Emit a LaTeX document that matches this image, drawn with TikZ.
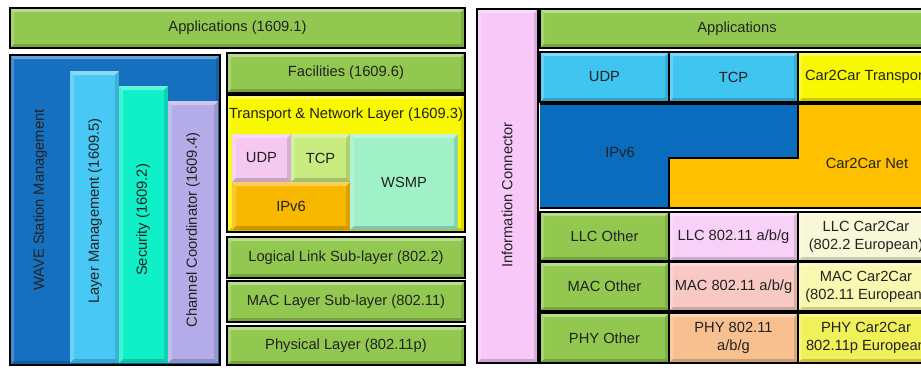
\documentclass[tikz,border=0pt]{standalone}
\usepackage{fontspec}
\setmainfont{Liberation Sans}
\definecolor{cgreen}{HTML}{92C850}
\definecolor{cwave}{HTML}{1670C0}
\definecolor{clayer}{HTML}{48C8F4}
\definecolor{csec}{HTML}{10F0C8}
\definecolor{cchan}{HTML}{B4ACE8}
\definecolor{cyel}{HTML}{F8F800}
\definecolor{cudpl}{HTML}{F4C8F0}
\definecolor{ctcpl}{HTML}{C8EC80}
\definecolor{corange}{HTML}{F8B800}
\definecolor{cwsmp}{HTML}{A0F0C8}
\definecolor{cic}{HTML}{F8C8F8}
\definecolor{ccyan}{HTML}{40C4F0}
\definecolor{cipv}{HTML}{0A6CBC}
\definecolor{cnet}{HTML}{FFC000}
\definecolor{cllc}{HTML}{F8D0F8}
\definecolor{cmac}{HTML}{F8C8C4}
\definecolor{cphy}{HTML}{F8C090}
\definecolor{cllcc}{HTML}{F8F8D8}
\definecolor{cmacc}{HTML}{F8F8B0}
\definecolor{cphyc}{HTML}{F0F058}
\definecolor{ctxt}{HTML}{222222}
\tikzset{
  bevel/.style={path picture={
    \fill[white,opacity=0.35] (path picture bounding box.north west) -- (path picture bounding box.north east)
       -- ([xshift=-4pt,yshift=-4pt]path picture bounding box.north east) -- ([xshift=4pt,yshift=-4pt]path picture bounding box.north west) -- cycle;
    \fill[white,opacity=0.2] (path picture bounding box.north west) -- (path picture bounding box.south west)
       -- ([xshift=4pt,yshift=4pt]path picture bounding box.south west) -- ([xshift=4pt,yshift=-4pt]path picture bounding box.north west) -- cycle;
    \fill[black,opacity=0.12] (path picture bounding box.north east) -- (path picture bounding box.south east)
       -- ([xshift=-4pt,yshift=4pt]path picture bounding box.south east) -- ([xshift=-4pt,yshift=-4pt]path picture bounding box.north east) -- cycle;
    \fill[black,opacity=0.18] (path picture bounding box.south west) -- (path picture bounding box.south east)
       -- ([xshift=-4pt,yshift=4pt]path picture bounding box.south east) -- ([xshift=4pt,yshift=4pt]path picture bounding box.south west) -- cycle;
  }},
  box/.style={rectangle, draw=black, line width=1.3pt, inner sep=0pt, outer sep=0pt, bevel,
    text=ctxt, font=\fontsize{14.7}{18}\selectfont, align=center},
  plain/.style={draw=none},
  lbl/.style={text=ctxt, font=\fontsize{14.7}{18}\selectfont, inner sep=0pt, align=center},
  lshape/.style={draw=black, line width=1.3pt},
}
\newcommand\lbox[8][]{\node[box,fill=#3,minimum width={#6-#4},minimum height={#7-#5},#1] (#2) at ({(#4+#6)/2},{(#5+#7)/2}) {#8};}
\begin{document}
\begin{tikzpicture}[x=1pt,y=-1pt]
\useasboundingbox (0,0) rectangle (921,367);
\fill[white] (0,0) rectangle (921,367);
% ---------- left stack ----------
\lbox{app1}{cgreen}{10}{8}{465}{48}{Applications (1609.1)}
\lbox{wave}{cwave}{10}{55}{220}{365}{}
\lbox[plain]{lay}{clayer}{70}{71}{119}{363}{}
\lbox[plain]{sec}{csec}{119}{86}{168}{363}{}
\lbox[plain]{chan}{cchan}{168}{101}{218}{363}{}
\draw[black,line width=1.3pt] (wave.north west) rectangle (wave.south east);
\node[lbl,rotate=90] (wavet) at (40,200) {WAVE Station Management};
\node[lbl,rotate=90] (layt) at (95,211) {Layer Management (1609.5)};
\node[lbl,rotate=90] (sect) at (143,220) {Security (1609.2)};
\node[lbl,rotate=90] (chant) at (193,230) {Channel Coordinator (1609.4)};
\lbox{fac}{cgreen}{227}{53}{465}{93}{Facilities (1609.6)}
\lbox{tnl}{cyel}{227}{95}{465}{232}{}
\node[lbl] (tnlt) at (346,115) {Transport \& Network Layer (1609.3)};
\lbox[plain]{udpa}{cudpl}{232}{134}{291}{182}{UDP}
\lbox[plain]{tcpa}{ctcpl}{291}{134}{350}{182}{TCP}
\lbox[plain]{ipva}{corange}{232}{182}{350}{230}{IPv6}
\lbox[plain]{wsmp}{cwsmp}{350}{134}{458}{230}{WSMP}
\draw[black,line width=1.3pt] (tnl.north west) rectangle (tnl.south east);
\lbox{llca}{cgreen}{227}{237}{465}{278}{Logical Link Sub-layer (802.2)}
\lbox{maca}{cgreen}{227}{281}{465}{322}{MAC Layer Sub-layer (802.11)}
\lbox{phya}{cgreen}{227}{326}{465}{365}{Physical Layer (802.11p)}
% ---------- right stack ----------
\lbox{ic}{cic}{477}{9}{538}{363}{}
\node[lbl,rotate=90] (ict) at (507,195) {Information Connector};
\lbox{app2}{cgreen}{540}{9}{934}{48}{Applications}
\lbox{udpb}{ccyan}{540}{52}{669}{102}{UDP}
\lbox{tcpb}{ccyan}{669}{52}{798}{102}{TCP}
\lbox{cct}{cyel}{798}{52}{934}{102}{Car2Car Transport}
\fill[cnet] (798,104) -- (934,104) -- (934,208) -- (669,208) -- (669,158) -- (798,158) -- cycle;
\fill[cipv] (540,104) -- (798,104) -- (798,158) -- (669,158) -- (669,208) -- (540,208) -- cycle;
\draw[lshape] (540,104) -- (934,104) (934,208) -- (540,208) -- cycle;
\draw[lshape] (798,104) -- (798,158) -- (669,158) -- (669,208);
\node[lbl] (ipvb) at (620,152) {IPv6};
\node[lbl] (net) at (867,163) {Car2Car Net};
\lbox{llco}{cgreen}{540}{212}{669}{261}{LLC Other}
\lbox{llcw}{cllc}{669}{212}{798}{261}{LLC 802.11 a/b/g}
\lbox{llcc}{cllcc}{798}{212}{934}{261}{LLC Car2Car\\(802.2 European)}
\lbox{maco}{cgreen}{540}{262}{669}{311}{MAC Other}
\lbox{macw}{cmac}{669}{262}{798}{311}{MAC 802.11 a/b/g}
\lbox{macc}{cmacc}{798}{262}{934}{311}{MAC Car2Car\\(802.11 European)}
\lbox{phyo}{cgreen}{540}{313}{669}{363}{PHY Other}
\lbox{phyw}{cphy}{669}{313}{798}{363}{PHY 802.11\\a/b/g}
\lbox{phyc}{cphyc}{798}{313}{934}{363}{PHY Car2Car\\802.11p European}
\end{tikzpicture}
\end{document}
